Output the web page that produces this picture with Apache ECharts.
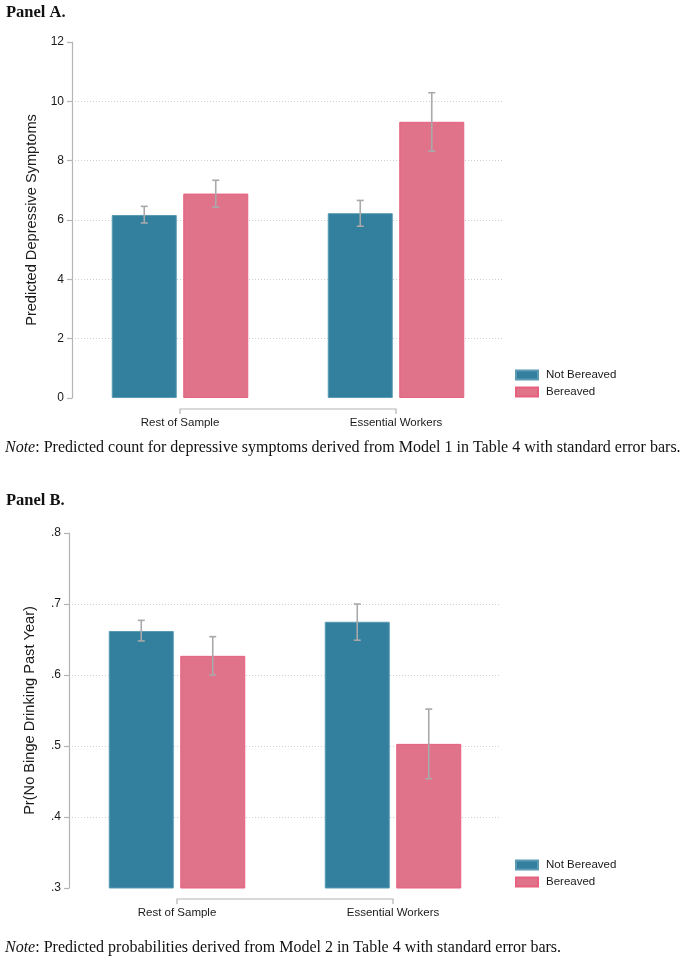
<!DOCTYPE html>
<html>
<head>
<meta charset="utf-8">
<script src="https://cdn.jsdelivr.net/npm/echarts@6/dist/echarts.min.js"></script>
<style>
html,body{margin:0;padding:0;background:#fff;}
#main{width:688px;height:959px;}
</style>
</head>
<body>
<div id="main"></div>
<script>
// ---------- data ----------
const categories = ['Rest of Sample', 'Essential Workers'];
const seriesNames = ['Not Bereaved', 'Bereaved'];

// Panel A: predicted depressive symptoms
const depNotBereaved   = [6.17, 6.23];
const depNotBereavedLo = [5.90, 5.79];
const depNotBereavedHi = [6.46, 6.66];
const depBereaved      = [6.89, 9.31];
const depBereavedLo    = [6.43, 8.32];
const depBereavedHi    = [7.34, 10.29];

// Panel B: Pr(no binge drinking past year)
const bingeNotBereaved   = [0.662, 0.675];
const bingeNotBereavedLo = [0.648, 0.649];
const bingeNotBereavedHi = [0.677, 0.700];
const bingeBereaved      = [0.627, 0.503];
const bingeBereavedLo    = [0.600, 0.454];
const bingeBereavedHi    = [0.654, 0.552];

const axisA = {min: 0, max: 12, interval: 2};
const axisB = {min: 0.3, max: 0.8, interval: 0.1};

const panelATitle = 'Panel A.';
const panelBTitle = 'Panel B.';
const noteA = 'Predicted count for depressive symptoms derived from Model 1 in Table 4 with standard error bars.';
const noteB = 'Predicted probabilities derived from Model 2 in Table 4 with standard error bars.';
const yNameA = 'Predicted Depressive Symptoms';
const yNameB = 'Pr(No Binge Drinking Past Year)';

// ---------- style ----------
const BLUE = '#327f9e', BLUE_EDGE = '#5a9ab4';
const PINK = '#e07389', PINK_EDGE = '#e6607f';
const GREY = '#b4b4b4';
const ERR = '#a9a9a9';
const SANS = '"Liberation Sans", Arial, sans-serif';
const SERIF = '"Liberation Serif", "DejaVu Serif", serif';
const BAR_W = 65, BAR_GAP = 0.10;
const offset = (BAR_W + BAR_W * BAR_GAP) / 2;
const NOTE_FS = 16;

const chart = echarts.init(document.getElementById('main'), null, {renderer: 'canvas'});

function errSeries(name, gi, lo, hi, dir) {
  return {
    type: 'custom', name: name, xAxisIndex: gi, yAxisIndex: gi, z: 5,
    silent: true, clip: false,
    data: categories.map((c, i) => [i, lo[i], hi[i]]),
    renderItem: function (params, api) {
      const a = api.coord([api.value(0), api.value(1)]);
      const b = api.coord([api.value(0), api.value(2)]);
      const x = a[0] + dir * offset;
      const cw = 3.5;
      const st = {stroke: ERR, lineWidth: 1.6};
      return {type: 'group', children: [
        {type: 'line', shape: {x1: x, y1: a[1], x2: x, y2: b[1]}, style: st},
        {type: 'line', shape: {x1: x - cw, y1: a[1], x2: x + cw, y2: a[1]}, style: st},
        {type: 'line', shape: {x1: x - cw, y1: b[1], x2: x + cw, y2: b[1]}, style: st}
      ]};
    }
  };
}

function bracketSeries(gi, ymin) {
  return {
    type: 'custom', xAxisIndex: gi, yAxisIndex: gi, silent: true, clip: false,
    data: [[0, categories.length - 1, ymin]],
    renderItem: function (params, api) {
      const p0 = api.coord([api.value(0), api.value(2)]);
      const p1 = api.coord([api.value(1), api.value(2)]);
      const y = p0[1] + 11;
      return {type: 'polyline',
        shape: {points: [[p0[0], y + 5], [p0[0], y], [p1[0], y], [p1[0], y + 5]]},
        style: {stroke: GREY, lineWidth: 1.2, fill: null}};
    }
  };
}

function barSeries(name, gi, data, color, edge) {
  return {
    type: 'bar', name: name, xAxisIndex: gi, yAxisIndex: gi,
    data: data, barWidth: BAR_W, barGap: (BAR_GAP * 100) + '%',
    itemStyle: {color: color, borderColor: edge, borderWidth: 1},
    emphasis: {disabled: true}
  };
}

function xAxis(gi) {
  return {
    type: 'category', gridIndex: gi, data: categories,
    axisLine: {show: false}, axisTick: {show: false},
    axisLabel: {color: '#1a1a1a', fontFamily: SANS, fontSize: 11.5, margin: 19}
  };
}

function yAxis(gi, ax, name, fmt) {
  return {
    type: 'value', gridIndex: gi, min: ax.min, max: ax.max, interval: ax.interval,
    name: name, nameLocation: 'middle', nameGap: 32,
    nameTextStyle: {color: '#1a1a1a', fontFamily: SANS, fontSize: 14.6},
    axisLine: {show: true, lineStyle: {color: GREY, width: 1.2}},
    axisTick: {show: true, length: 5, lineStyle: {color: GREY, width: 1.2}},
    axisLabel: {color: '#1a1a1a', fontFamily: SANS, fontSize: 12, margin: 8, formatter: fmt},
    splitLine: {show: true, showMinLine: false, showMaxLine: false,
      lineStyle: {color: '#cfcfcf', type: [1, 2], width: 1}}
  };
}

function legend(top) {
  return {
    orient: 'vertical', left: 515, top: top, data: seriesNames,
    icon: 'rect', itemWidth: 22, itemHeight: 9, itemGap: 3, padding: 0,
    selectedMode: false,
    textStyle: {color: '#1a1a1a', fontFamily: SANS, fontSize: 11.5, lineHeight: 14, padding: [0, 0, 0, 3]}
  };
}

function noteText(y, txt) {
  return {
    type: 'text', left: 5, top: y,
    style: {
      text: '{i|Note}: ' + txt,
      font: NOTE_FS + 'px ' + SERIF, fill: '#111',
      rich: {i: {fontStyle: 'italic', fontFamily: SERIF, fontSize: NOTE_FS, fill: '#111'}}
    }
  };
}

const option = {
  animation: false,
  backgroundColor: '#fff',
  grid: [
    {left: 72, top: 42, width: 432, height: 356},
    {left: 69, top: 533, width: 432, height: 355}
  ],
  xAxis: [xAxis(0), xAxis(1)],
  yAxis: [
    yAxis(0, axisA, yNameA, v => String(v)),
    yAxis(1, axisB, yNameB, v => String(Math.round(v * 10) / 10).replace(/^0/, ''))
  ],
  legend: [legend(368), legend(858)],
  series: [
    barSeries(seriesNames[0], 0, depNotBereaved, BLUE, BLUE_EDGE),
    barSeries(seriesNames[1], 0, depBereaved, PINK, PINK_EDGE),
    errSeries(seriesNames[0], 0, depNotBereavedLo, depNotBereavedHi, -1),
    errSeries(seriesNames[1], 0, depBereavedLo, depBereavedHi, 1),
    bracketSeries(0, axisA.min),
    barSeries(seriesNames[0], 1, bingeNotBereaved, BLUE, BLUE_EDGE),
    barSeries(seriesNames[1], 1, bingeBereaved, PINK, PINK_EDGE),
    errSeries(seriesNames[0], 1, bingeNotBereavedLo, bingeNotBereavedHi, -1),
    errSeries(seriesNames[1], 1, bingeBereavedLo, bingeBereavedHi, 1),
    bracketSeries(1, axisB.min)
  ],
  graphic: [
    {type: 'text', left: 6, top: 4, style: {text: panelATitle, font: 'bold 16.5px ' + SERIF, fill: '#111'}},
    noteText(440, noteA),
    {type: 'text', left: 6, top: 492, style: {text: panelBTitle, font: 'bold 16.5px ' + SERIF, fill: '#111'}},
    noteText(940, noteB)
  ]
};
chart.setOption(option);
</script>
</body>
</html>
